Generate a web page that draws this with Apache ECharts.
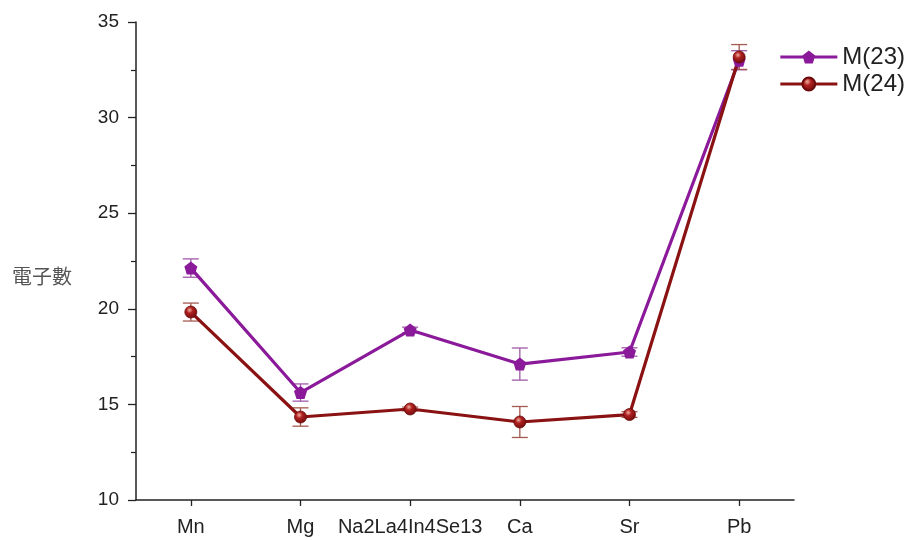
<!DOCTYPE html>
<html><head><meta charset="utf-8">
<script src="https://cdn.jsdelivr.net/npm/echarts@6/dist/echarts.min.js"></script>
<style>html,body{margin:0;padding:0;background:#fff}#c{width:907px;height:540px}</style>
</head><body><div id="c"></div>
<script>
const categories = ['Mn', 'Mg', 'Na2La4In4Se13', 'Ca', 'Sr', 'Pb'];
const m23 = [22.13, 15.62, 18.89, 17.11, 17.74, 33.0];
const m23err = [0.48, 0.45, 0.15, 0.84, 0.22, 0.5];
const m24 = [19.83, 14.34, 14.76, 14.08, 14.47, 33.17];
const m24err = [0.47, 0.48, 0.1, 0.81, 0.15, 0.65];
const yTicks = [10, 15, 20, 25, 30, 35];

const purple = '#8a1a9a';
const darkred = '#8a1212';
const pentagon = 'path://M0,-1 L0.951,-0.309 L0.588,0.809 L-0.588,0.809 L-0.951,-0.309 Z';

function errSeries(vals, errs, color) {
  return {
    type: 'custom', z: 1, silent: true,
    data: vals.map((v, i) => [i, v - errs[i], v + errs[i]]),
    renderItem: function (params, api) {
      const lo = api.coord([api.value(0), api.value(1)]);
      const hi = api.coord([api.value(0), api.value(2)]);
      const w = 8;
      const st = { stroke: color, lineWidth: 1.3 };
      return { type: 'group', children: [
        { type: 'line', shape: { x1: lo[0], y1: lo[1], x2: hi[0], y2: hi[1] }, style: st },
        { type: 'line', shape: { x1: lo[0] - w, y1: lo[1], x2: lo[0] + w, y2: lo[1] }, style: st },
        { type: 'line', shape: { x1: hi[0] - w, y1: hi[1], x2: hi[0] + w, y2: hi[1] }, style: st }
      ]};
    }
  };
}

const chart = echarts.init(document.getElementById('c'));
chart.setOption({
  animation: false,
  backgroundColor: '#fff',
  grid: { left: 136, right: 113, top: 22, bottom: 40, containLabel: false },
  legend: {
    right: -3, top: 40, orient: 'vertical', itemGap: 3,
    itemWidth: 57, itemHeight: 16,
    lineStyle: { width: 3 },
    textStyle: { fontFamily: 'Liberation Sans, Arial', fontSize: 24, lineHeight: 24, color: '#222', padding: [0, 0, 0, 0] },
    data: ['M(23)', 'M(24)']
  },
  xAxis: {
    type: 'category', data: categories, boundaryGap: true,
    axisLine: { lineStyle: { color: '#222', width: 1.5 } },
    axisTick: { show: true, alignWithLabel: true, interval: 0, length: 6, lineStyle: { color: '#222', width: 1.3 } },
    axisLabel: { interval: 0, fontFamily: 'Liberation Sans, Arial', fontSize: 20, color: '#222', margin: 17 },
    splitLine: { show: false }
  },
  yAxis: {
    type: 'value', min: 10, max: 35, interval: 5,
    name: '電子數', nameLocation: 'middle', nameRotate: 0, nameGap: 64,
    nameTextStyle: { fontFamily: 'Noto Sans CJK TC', fontSize: 20, color: '#555', verticalAlign: 'top', lineHeight: 30 },
    axisLine: { show: true, lineStyle: { color: '#222', width: 1.5 } },
    axisTick: { show: true, inside: false, length: 8, lineStyle: { color: '#222', width: 1.3 } },
    minorTick: { show: true, splitNumber: 2, length: 5, lineStyle: { color: '#222', width: 1.2 } },
    axisLabel: { fontFamily: 'Liberation Sans, Arial', fontSize: 19, color: '#222', margin: 17,
      formatter: v => yTicks.includes(v) ? String(v) : '' },
    splitLine: { show: false }
  },
  series: [
    errSeries(m23, m23err, '#a05aa8'),
    errSeries(m24, m24err, '#a45a50'),
    {
      name: 'M(23)', type: 'line', data: m23, z: 3,
      symbol: pentagon, symbolSize: 13,
      lineStyle: { color: purple, width: 3.2 },
      itemStyle: { color: purple }
    },
    {
      name: 'M(24)', type: 'line', data: m24, z: 3,
      symbol: 'circle', symbolSize: 12,
      lineStyle: { color: darkred, width: 3.2 },
      itemStyle: {
        color: { type: 'radial', x: 0.4, y: 0.35, r: 0.7,
          colorStops: [{ offset: 0, color: '#f0b0a0' }, { offset: 0.35, color: '#b02020' }, { offset: 1, color: '#6a0a0a' }] },
        borderColor: '#6a0a0a', borderWidth: 0.8
      }
    }
  ]
});
</script></body></html>
